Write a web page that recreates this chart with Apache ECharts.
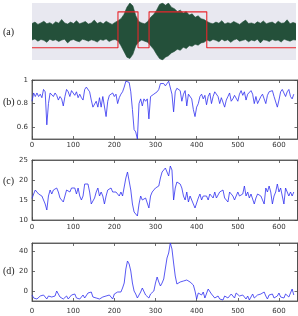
<!DOCTYPE html>
<html>
<head>
<meta charset="utf-8">
<script src="https://cdn.jsdelivr.net/npm/echarts@6/dist/echarts.min.js"></script>
<style>
  html, body { margin: 0; padding: 0; background: #fff; }
  #chart { width: 298px; height: 316px; }
</style>
</head>
<body>
<div id="chart"></div>
<script>
  // panel labels and tick labels
  var panelLabels = ['(a)', '(b)', '(c)', '(d)']
  var xTicks = [0, 100, 200, 300, 400, 500, 600]
  var ticksB = [0.6, 0.8, 1]
  var ticksC = [10, 15, 20, 25]
  var ticksD = [0, 20, 40]

  // (a) signal envelope, read every ~3px, and the red detection box
  var envTop = [0.28, 0.33, 0.25, 0.3, 0.36, 0.27, 0.31, 0.25, 0.34, 0.29, 0.42, 0.3, 0.26, 0.33, 0.28, 0.38, 0.27, 0.31, 0.35, 0.26,
    0.3, 0.4, 0.28, 0.33, 0.27, 0.36, 0.3, 0.25, 0.32, 0.38,
    0.45, 0.6, 0.85, 1.0, 0.9, 0.55, 0.35,
    0.3, 0.27, 0.35,
    0.5, 0.6, 0.75, 0.95, 1.0, 0.92, 1.0, 0.85, 0.8, 0.7, 0.75, 0.65, 0.7, 0.58, 0.62, 0.5, 0.55, 0.45, 0.42,
    0.35, 0.3, 0.27, 0.33, 0.29, 0.38, 0.26, 0.31, 0.28, 0.35, 0.3, 0.25, 0.33, 0.4, 0.28, 0.3, 0.26, 0.34, 0.29, 0.37,
    0.27, 0.31, 0.33, 0.26, 0.36, 0.29, 0.3, 0.41, 0.27, 0.32, 0.28]
  var envBottom = [-0.3, -0.26, -0.34, -0.28, -0.31, -0.38, -0.27, -0.32, -0.29, -0.35, -0.3, -0.27, -0.4, -0.31, -0.28, -0.33, -0.36, -0.27, -0.3, -0.34,
    -0.29, -0.32, -0.37, -0.28, -0.31, -0.26, -0.35, -0.3, -0.28, -0.33,
    -0.5, -0.7, -0.9, -0.95, -0.8, -0.5, -0.36,
    -0.3, -0.34, -0.38,
    -0.5, -0.62, -0.8, -0.95, -1.0, -0.9, -0.85, -0.75, -0.7, -0.62, -0.66, -0.55, -0.6, -0.5, -0.52, -0.45, -0.48, -0.4, -0.38,
    -0.3, -0.34, -0.28, -0.31, -0.36, -0.27, -0.33, -0.29, -0.38, -0.3, -0.26, -0.34, -0.31, -0.28, -0.36, -0.3, -0.33, -0.27, -0.4, -0.29,
    -0.31, -0.35, -0.28, -0.32, -0.3, -0.37, -0.27, -0.31, -0.34, -0.29, -0.3]
  var boxEdges = [210, 259, 286, 427]
  var boxLow = -0.57
  var boxHigh = 0.69
  var sampleMax = 645

  // (b)(c)(d) features, one value every 4 samples
  var step = 4
  var featB = [0.82, 0.89, 0.86, 0.89, 0.86, 0.88, 0.85, 0.92, 0.9, 0.62, 0.8, 0.89, 0.88, 0.86, 0.89, 0.87, 0.83, 0.86, 0.84, 0.78,
    0.86, 0.92, 0.9, 0.86, 0.91, 0.89, 0.87, 0.9, 0.85, 0.88, 0.85, 0.83, 0.92, 0.94, 0.94, 0.9, 0.83, 0.77, 0.77, 0.82,
    0.77, 0.85, 0.77, 0.86, 0.85, 0.69, 0.82, 0.87, 0.88, 0.89, 0.86, 0.88, 0.8, 0.85, 0.88, 0.9, 0.94, 0.99, 1.0, 0.98,
    0.9, 0.75, 0.58, 0.56, 0.5, 0.8, 0.84, 0.78, 0.84, 0.82, 0.84, 0.67, 0.86, 0.87, 0.88, 0.89, 0.9, 0.92, 0.97, 0.96,
    0.97, 0.95, 0.97, 0.99, 1.0, 0.88, 0.73, 0.9, 0.93, 0.92, 0.91, 0.82, 0.88, 0.91, 0.78, 0.88, 0.87, 0.84, 0.75, 0.69,
    0.77, 0.8, 0.86, 0.88, 0.84, 0.87, 0.79, 0.86, 0.89, 0.8, 0.86, 0.9, 0.9, 0.86, 0.8, 0.85, 0.86, 0.77, 0.83, 0.86,
    0.89, 0.82, 0.84, 0.87, 0.86, 0.82, 0.88, 0.91, 0.87, 0.9, 0.83, 0.88, 0.87, 0.91, 0.88, 0.8, 0.86, 0.8, 0.83, 0.86,
    0.88, 0.84, 0.8, 0.87, 0.9, 0.89, 0.91, 0.86, 0.87, 0.77, 0.83, 0.9, 0.92, 0.89, 0.86, 0.9, 0.92, 0.86, 0.84, 0.88]
  var featC = [15.4, 16.5, 17.5, 17, 16.5, 17, 16, 15.5, 14, 12.5, 16, 17.5, 16.5, 17.5, 17, 18, 17, 15.5, 15, 14.5,
    16, 17.5, 17.5, 17, 18, 17.5, 18, 16.5, 18, 16, 15, 16, 19, 19.5, 19, 17, 14, 14.5, 15.5, 17,
    18, 16, 17, 16, 14, 16, 17.5, 17.5, 18, 17, 16.5, 17, 16.5, 16, 17, 16, 15.5, 20.5, 22, 22.5,
    17.5, 14, 12, 11.5, 11, 14, 16, 15, 15.5, 15.5, 16, 13, 16, 17, 16.5, 18, 18.5, 18.5, 20.5, 22,
    21.5, 23, 22, 21, 23.5, 22.5, 15, 18, 19.5, 19.5, 19, 18, 16, 15, 17, 14.5, 16, 15, 14, 13,
    13.5, 15.5, 16.5, 15, 16, 15.5, 16, 15, 16.5, 16, 15.5, 17, 15.5, 16, 17, 16.5, 17.5, 15.5, 16, 14.5,
    17, 16.5, 16, 15, 16, 17, 16, 15.5, 16.5, 18.5, 16, 17, 15.5, 16.5, 16, 14, 15.5, 16.5, 17, 16,
    16.5, 14, 18, 17, 18.5, 17, 14, 16, 17, 19, 17, 18, 16, 14, 18, 17, 16, 17, 16, 17]
  var featD = [-4, -7, -5, -8, -6, -5, -7, -4, -6, -8, -5, -3, -6, -4, -5, 0, -3, -6, -7, -8,
    -6, -5, -8, -7, -4, -6, -3, -7, -5, -8, -6, -4, -7, -5, -2, -4, -1, -6, -8, -7,
    -9, -8, -7, -6, -8, -5, -7, -4, -6, -8, -3, -5, -1, -3, -1, 3, 8, 22, 30, 27,
    20, 8, 0, -3, -7, -5, -1, 3, 3, -4, -6, -7, -3, -5, 0, 8, 14, 9, 5, 8,
    12, 13, 33, 38, 48, 42, 28, 15, 7, 7, 9, 10, 10, 10, 11, 10, 9, 7, 6, 0,
    -8, -2, -1, -4, -1, -7, -5, 2, 4, -3, -5, -7, -6, -5, -8, -6, -9, -5, -4, -7,
    -6, -3, -5, -7, -2, -1, -5, -7, -4, -6, -8, -5, -9, -6, -3, -7, -6, -4, -6, -3,
    -5, -1, -5, -8, -4, -6, -3, -7, -8, -5, -2, -6, -4, -7, -3, -5, -6, -4, 2, -4]

  var blue = '#2e2ef0'
  var frame = '#4a4a4a'
  var panelBg = '#e8e8f0'

  function toPoints(arr, dx) {
    return arr.map(function (v, i) { return [i * dx, v] })
  }

  function boxPoints() {
    var pts = [[0, boxLow]]
    var level = boxLow
    boxEdges.forEach(function (e) {
      pts.push([e, level])
      level = level === boxLow ? boxHigh : boxLow
      pts.push([e, level])
    })
    pts.push([sampleMax, level])
    return pts
  }

  var grids = [
    {left: 32, top: 3, width: 264, height: 57},
    {left: 32, top: 80, width: 265.5, height: 59},
    {left: 32, top: 160, width: 265.5, height: 60},
    {left: 32, top: 243, width: 265.5, height: 58}
  ].map(function (g, i) {
    return Object.assign(g, {
      show: true,
      backgroundColor: i === 0 ? panelBg : '#fff',
      borderWidth: i === 0 ? 0 : 0.8,
      borderColor: frame
    })
  })

  var xAxes = [{gridIndex: 0, type: 'value', min: 0, max: sampleMax, show: false}]
  var yAxes = [{gridIndex: 0, type: 'value', min: -1, max: 1, show: false}]
  var yRanges = [[0.5, 1, ticksB], [10, 25, ticksC], [-10, 48, ticksD]]
  var labelMargins = [3, 4, 7]

  yRanges.forEach(function (r, k) {
    var gi = k + 1
    ;['bottom', 'top'].forEach(function (pos) {
      xAxes.push({
        gridIndex: gi, type: 'value', position: pos, min: 0, max: sampleMax, interval: 100,
        axisLine: {show: true, onZero: false, lineStyle: {color: frame, width: 0.8}},
        axisTick: {show: true, inside: true, length: 3, lineStyle: {color: frame, width: 0.8}},
        axisLabel: {
          show: pos === 'bottom', fontSize: 7, color: '#333', margin: labelMargins[k],
          fontFamily: 'DejaVu Sans', showMaxLabel: false
        },
        splitLine: {show: false}
      })
    })
    ;['left', 'right'].forEach(function (pos) {
      yAxes.push({
        gridIndex: gi, type: 'value', position: pos, min: r[0], max: r[1],
        axisLine: {show: true, onZero: false, lineStyle: {color: frame, width: 0.8}},
        axisTick: {show: true, inside: true, length: 3, customValues: r[2], lineStyle: {color: frame, width: 0.8}},
        axisLabel: {
          show: pos === 'left', fontSize: 7, color: '#333', margin: 4,
          fontFamily: 'DejaVu Sans', customValues: r[2]
        },
        splitLine: {show: false}
      })
    })
  })

  // envelope: fill below the upper edge in green, then mask below the lower edge with the panel colour
  var green = '#24503a'
  var envDx = sampleMax / (envTop.length - 1)
  var series = [
    {
      type: 'line', xAxisIndex: 0, yAxisIndex: 0, symbol: 'none', silent: true,
      data: toPoints(envTop, envDx),
      lineStyle: {color: green, width: 0.6}, areaStyle: {color: green, opacity: 1, origin: 'start'}
    },
    {
      type: 'line', xAxisIndex: 0, yAxisIndex: 0, symbol: 'none', silent: true,
      data: toPoints(envBottom, envDx),
      lineStyle: {color: green, width: 0.6}, areaStyle: {color: panelBg, opacity: 1, origin: 'start'}
    },
    {
      type: 'line', xAxisIndex: 0, yAxisIndex: 0, symbol: 'none', silent: true,
      data: boxPoints(),
      lineStyle: {color: '#e8262c', width: 1.1}
    }
  ]
  ;[featB, featC, featD].forEach(function (arr, k) {
    series.push({
      type: 'line', xAxisIndex: 1 + k * 2, yAxisIndex: 1 + k * 2, symbol: 'none', silent: true,
      data: toPoints(arr, step),
      lineStyle: {color: blue, width: 0.8}
    })
  })

  var labelY = [33, 103, 182, 272]
  var graphics = panelLabels.map(function (t, i) {
    return {
      type: 'text', left: 3, top: labelY[i] - 6,
      style: {text: t, font: '10px "Liberation Serif", "DejaVu Serif", serif', fill: '#222'}
    }
  })

  var chart = echarts.init(document.getElementById('chart'), null, {renderer: 'canvas'})
  chart.setOption({
    animation: false,
    backgroundColor: '#fff',
    grid: grids,
    xAxis: xAxes,
    yAxis: yAxes,
    series: series,
    graphic: graphics
  })
</script>
</body>
</html>
